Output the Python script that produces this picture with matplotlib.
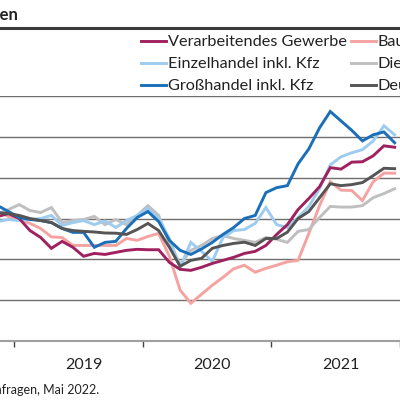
import numpy as np
import matplotlib
matplotlib.use("Agg")
import matplotlib.pyplot as plt
from matplotlib.lines import Line2D

plt.rcParams['font.family'] = ['Lato', 'DejaVu Sans']

# monthly values Nov 2018 .. Dec 2021 (month index 0 = Jan 2019)
months = np.arange(-2, 36)

verarbeitendes = [21, 22.4, 20, 14.1, 10.7, 5.4, 8.8, 5.9, 1.5, 2.9, 2.4, 3.4, 4.4, 4.9,
                  4.7, 4.7, -1.5, -4.9, -5.4, -3.9, -2, -0.5, 1, 2.9, 3.9, 6.8,
                  12.2, 17, 24.4, 29.8, 35.6, 44.9, 44.2, 47.6, 47.8, 50.7, 55.6, 54.9]
bau = [23.4, 21, 19.5, 17.6, 15.1, 11, 10.7, 6.8, 6.8, 6.8, 6.8, 6.8, 10.2, 9.3,
       11.2, 12.7, 1.5, -15.1, -21.5, -17.1, -12.7, -8.8, -4.6, -2.9, -6.3, -4.4,
       -2.9, -1.2, -0.5, 12.7, 26.3, 38, 33.9, 33.7, 28.8, 38, 42.2, 42.2]
einzelhandel = [18.5, 19.5, 19, 19.5, 20, 21.5, 16.6, 18, 19, 17, 18.8, 15.6, 19, 21.5,
                24.9, 20, 10.2, -3.9, 8.3, 3.9, -1, 10.7, 14.1, 14.6, 17.6, 25.4,
                17, 15.6, 20.5, 25.9, 34.6, 46.3, 50.2, 52.2, 53.7, 58, 65.4, 61]
dienstleister = [22.4, 24.4, 26.8, 23.9, 22.9, 25.4, 18, 19, 19.5, 21, 17, 19.5, 17, 21.5,
                 26.3, 21.5, 7.8, -2.5, 4.4, 6.8, 10.2, 11.7, 10.2, 9.3, 8.3, 10.7,
                 9.8, 8.3, 13.7, 14.6, 20.5, 25.9, 25.6, 25.6, 26.3, 30.2, 32.2, 34.6]
grosshandel = [26.3, 23.4, 20.5, 19.5, 19, 18, 15.1, 13.2, 13.2, 5.9, 8.3, 8.8, 15.1, 20.5,
               23.4, 18.5, 9.3, 4.4, 2.4, 5.1, 8.3, 12.2, 15.6, 20, 21.5, 32.7,
               35.1, 36.1, 46.8, 54.1, 64.4, 72.4, 67.8, 63.2, 58, 61, 62.4, 57.1]
deutschland = [22.9, 22.4, 21.5, 20, 19, 18, 15.1, 14.1, 13.7, 13.4, 12.9, 12.8, 12.2, 14.6,
               17.6, 14.1, 5.9, -3.4, -0.5, 0.5, 5.4, 6.8, 7.8, 8.4, 6.8, 10.2,
               10.2, 13.3, 20, 23.4, 30.2, 37, 36.1, 36.6, 37.6, 41, 44.6, 44.4]

years = ['2019', '2020', '2021']

series = [
    ('Verarbeitendes Gewerbe', verarbeitendes, '#A0215F'),
    ('Einzelhandel inkl. Kfz', einzelhandel, '#9DCCEE'),
    ('Großhandel inkl. Kfz', grosshandel, '#1A6FB8'),
    ('Bauhauptgewerbe', bau, '#F4A3A1'),
    ('Dienstleister', dienstleister, '#BFBFBF'),
    ('Deutschland', deutschland, '#555555'),
]

fig = plt.figure(figsize=(4, 4), dpi=100)
W = H = 400.0

# the plot area runs past the picture edges
px_per_month = 130 / 12
left = -0.5 - 14 / px_per_month
ax = fig.add_axes([0, (H - 341) / H, 1, (341 - 96) / H])
ax.set_xlim(left, left + W / px_per_month)
ax.set_ylim(-40, 80)

draw_order = [3, 4, 1, 0, 2, 5]
handles = {}
for i in draw_order:
    name, vals, col = series[i]
    handles[name], = ax.plot(months, vals, color=col, lw=2.1, solid_joinstyle='miter')

ax.set_yticks(np.arange(-20, 81, 20))
ax.yaxis.grid(True, color='#6e6e6e', lw=1.0)
ax.set_axisbelow(True)
ax.tick_params(axis='y', left=False, labelleft=False)
for s in ['left', 'right', 'top']:
    ax.spines[s].set_visible(False)
ax.spines['bottom'].set_color('#a0a0a0')
ax.spines['bottom'].set_linewidth(1.5)

ax.set_xticks([-0.5, 11.5, 23.5, 35.5])
ax.set_xticklabels([])
ax.tick_params(axis='x', direction='out', length=4.5, width=1, color='#444444')
ax.set_xticks([6, 18, 30], minor=True)
ax.set_xticklabels(years, minor=True, fontsize=11.5, color='#222222')
ax.tick_params(axis='x', which='minor', length=0, pad=12.5)

order = ['Verarbeitendes Gewerbe', 'Einzelhandel inkl. Kfz', 'Großhandel inkl. Kfz',
         'Bauhauptgewerbe', 'Dienstleister', 'Deutschland']
fig.legend([handles[n] for n in order], order, ncol=2, frameon=False,
           loc='upper left', bbox_to_anchor=(141 / W, 1 - 35 / H),
           fontsize=11.7, handlelength=1.55, handletextpad=0.12,
           columnspacing=0.22, labelspacing=0.47, borderpad=0, borderaxespad=0,
           labelcolor='#222222')

fig.add_artist(Line2D([0, 1], [1 - 28 / H] * 2, color='#3a3a3a', lw=2.2,
                      transform=fig.transFigure))

fig.text(19 / W, 1 - 15 / H, 'Preiserwartungen', ha='right', va='center',
         fontsize=12, fontweight='bold', color='#222222')
fig.text(99 / W, 1 - 390 / H, 'Quelle: ifo Konjunkturumfragen, Mai 2022.',
         ha='right', va='center', fontsize=9, color='#222222')

fig.savefig('out.png', dpi=100)
